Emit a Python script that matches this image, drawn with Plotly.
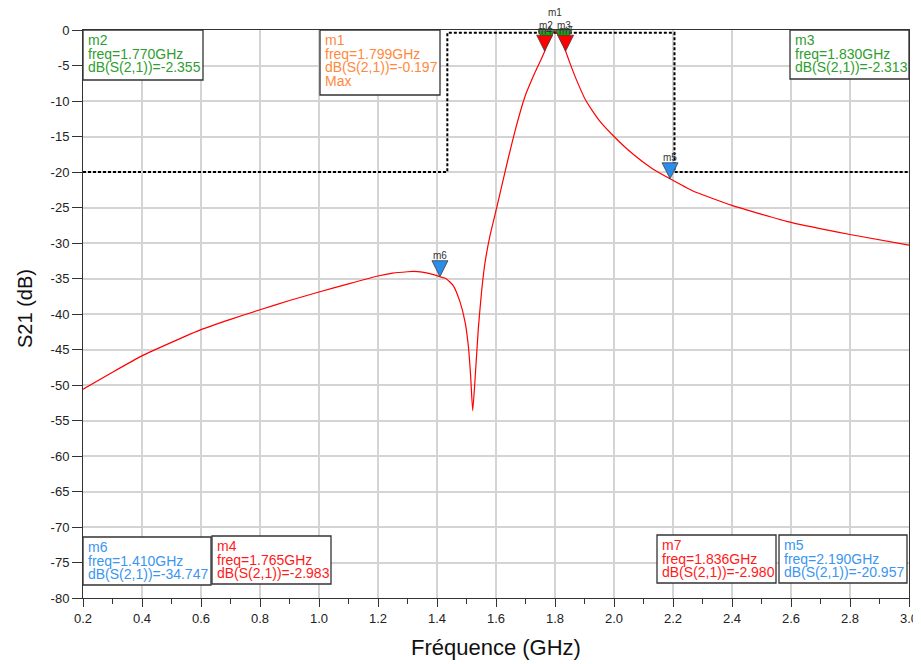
import plotly.graph_objects as go

# ---------------- data ----------------
freq_ghz = [0.2, 0.3, 0.4, 0.5, 0.6, 0.7, 0.8, 0.9, 1.0, 1.1, 1.2, 1.25, 1.3, 1.32,
            1.35, 1.4, 1.41, 1.43, 1.455, 1.478, 1.495, 1.506, 1.514, 1.521, 1.529,
            1.54, 1.551, 1.563, 1.58, 1.602, 1.631, 1.664, 1.698, 1.732, 1.75, 1.765,
            1.77, 1.78, 1.79, 1.799, 1.81, 1.82, 1.83, 1.836, 1.85, 1.871, 1.904,
            1.949, 2.0, 2.062, 2.129, 2.19, 2.264, 2.4, 2.6, 2.8, 3.0]
s21_db = [-50.6, -48.2, -45.9, -44.0, -42.2, -40.75, -39.4, -38.1, -36.9, -35.75,
          -34.65, -34.25, -34.05, -34.0, -34.1, -34.6, -34.747, -35.0, -36.0, -38.3,
          -41.1, -44.4, -48.7, -53.6, -49.2, -42.1, -36.9, -32.7, -28.9, -25.1,
          -19.9, -14.3, -9.4, -6.0, -4.4, -2.983, -2.355, -1.5, -0.6, -0.197,
          -0.65, -1.45, -2.313, -2.980, -4.6, -6.85, -9.9, -12.7, -15.0, -17.4,
          -19.5, -20.957, -22.6, -24.7, -27.1, -28.8, -30.3]

mask_freq = [0.2, 1.435, 1.435, 2.205, 2.205, 3.0]
mask_db = [-20, -20, -0.4, -0.4, -20, -20]

mk_names = ["m1", "m2", "m3", "m4", "m5", "m6", "m7"]
mk_freq = [1.799, 1.770, 1.830, 1.765, 2.190, 1.410, 1.836]
mk_db = [-0.197, -2.355, -2.313, -2.983, -20.957, -34.747, -2.980]

x_ticks = [0.2, 0.4, 0.6, 0.8, 1.0, 1.2, 1.4, 1.6, 1.8, 2.0, 2.2, 2.4, 2.6, 2.8, 3.0]
y_ticks = list(range(-80, 1, 5))

# ---------------- styles ----------------
OFF = 8  # page body margin
W, H = 921 - OFF, 664 - OFF
L, T = 83 - OFF, 30 - OFF
R, B = 12, 66
PW, PH = W - L - R, H - T - B
FONT = "Liberation Sans, Arial, sans-serif"

tri_fill = {"m1": "#FFB81E", "m2": "#10B010", "m3": "#10B010", "m4": "#FF0000",
            "m7": "#FF0000", "m5": "#2A8CEB", "m6": "#2A8CEB"}
txt_col = {"m1": "#FF8A3D", "m2": "#2E9E2E", "m3": "#2E9E2E", "m4": "#FF1A1A",
           "m7": "#FF1A1A", "m5": "#3A96F0", "m6": "#3A96F0"}
draw_order = ["m2", "m3", "m4", "m7", "m1", "m5", "m6"]
label_shift = {"m1": 19}

# boxes: name -> (left, top, right, bottom) in reference-page pixels
boxes = {"m2": (83, 30, 203, 80), "m1": (320, 30, 440, 95), "m3": (790, 30, 909, 79),
         "m6": (83, 537, 211, 585), "m4": (212, 536, 331, 584),
         "m7": (657, 535, 776, 583), "m5": (779, 535, 907, 583)}


def px(x):
    return (x - OFF - L) / PW


def py(y):
    return (T + PH - (y - OFF)) / PH


fig = go.Figure()
fig.add_trace(go.Scatter(x=mask_freq, y=mask_db, mode="lines",
                         line=dict(color="black", width=2, dash="3px,2px"),
                         hoverinfo="skip", showlegend=False))
fig.add_trace(go.Scatter(x=freq_ghz, y=s21_db, mode="lines",
                         line=dict(color="#FF0000", width=1.2, shape="spline", smoothing=0.5),
                         showlegend=False))

shapes = []
annotations = []
for name in draw_order:
    i = mk_names.index(name)
    shapes.append(dict(type="path", xref="x", yref="y", xsizemode="pixel", ysizemode="pixel",
                       xanchor=mk_freq[i], yanchor=mk_db[i],
                       path="M -8 16 L 8 16 L 0 0 Z", fillcolor=tri_fill[name],
                       line=dict(color="#404040", width=0.8), layer="above"))
    annotations.append(dict(x=mk_freq[i], y=mk_db[i], xref="x", yref="y", text=name,
                            showarrow=False, yshift=label_shift.get(name, 21),
                            font=dict(family=FONT, size=10, color="#333"),
                            xanchor="center", yanchor="middle"))

for name, (x0, y0, x1, y1) in boxes.items():
    i = mk_names.index(name)
    shapes.append(dict(type="rect", xref="paper", yref="paper", x0=px(x0), x1=px(x1),
                       y0=py(y1), y1=py(y0), fillcolor="white",
                       line=dict(color="#333333", width=1.3), layer="above"))
    lines = [name, f"freq={mk_freq[i]:.3f}GHz", f"dB(S(2,1))={mk_db[i]:.3f}"]
    if name == "m1":
        lines.append("Max")
    for k, t in enumerate(lines):
        annotations.append(dict(x=px(x0 + 3), y=py(y0 + 10 + 13.5 * k), xref="paper", yref="paper",
                                text=t, showarrow=False, xanchor="left", yanchor="middle",
                                font=dict(family=FONT, size=14, color=txt_col[name])))

annotations.append(dict(x=px(496), y=py(647), xref="paper", yref="paper", text="Fréquence (GHz)",
                        showarrow=False, font=dict(family=FONT, size=22, color="#111"),
                        xanchor="center", yanchor="middle"))
annotations.append(dict(x=px(25), y=py(309), xref="paper", yref="paper", text="S21 (dB)",
                        showarrow=False, textangle=-90, font=dict(family=FONT, size=20, color="#111"),
                        xanchor="center", yanchor="middle"))

fig.update_layout(
    width=W, height=H, margin=dict(l=L, r=R, t=T, b=B, autoexpand=False),
    paper_bgcolor="white", plot_bgcolor="white",
    font=dict(family=FONT, size=13, color="#222"),
    shapes=shapes, annotations=annotations, showlegend=False,
    xaxis=dict(range=[0.2, 3.0], tickvals=x_ticks, ticktext=[f"{v:.1f}" for v in x_ticks],
               ticks="outside", ticklen=8, tickcolor="#333", showgrid=True, automargin=False,
               gridcolor="#D4D4D4", gridwidth=1.5, zeroline=False, showline=True,
               linecolor="#333", linewidth=1, mirror=True,
               minor=dict(dtick=0.1, tick0=0.2, ticks="outside", ticklen=5, tickcolor="#333", showgrid=False)),
    yaxis=dict(range=[-80, 0], tickvals=y_ticks, ticktext=[str(v) for v in y_ticks],
               ticks="outside", ticklen=10, tickcolor="#333", showgrid=True, automargin=False,
               gridcolor="#D4D4D4", gridwidth=1.5, zeroline=False, showline=True,
               linecolor="#333", linewidth=1, mirror=True),
)

fig.write_html("out.html")
